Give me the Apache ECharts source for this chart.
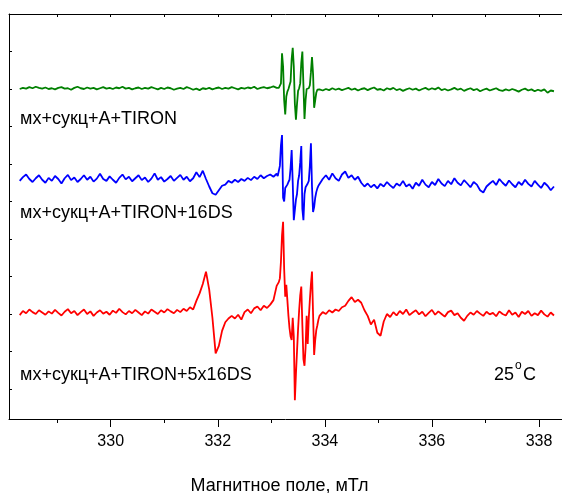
<!DOCTYPE html>
<html><head><meta charset="utf-8">
<script src="https://cdn.jsdelivr.net/npm/echarts@6/dist/echarts.min.js"></script>
<style>html,body{margin:0;padding:0;background:#fff}#c{width:562px;height:493px}</style>
</head><body><div id="c"></div>
<script>
// Field sampling (mT): three segments, start and step
const fieldLeftStart = 328.30, fieldLeftStep = 0.06;
const fieldMidStart = 333.12, fieldMidStep = 0.02;
const fieldRightStart = 333.90, fieldRightStep = 0.06;

// x-axis ticks
const majorTicks = [330, 332, 334, 336, 338];
const minorTicks = [329, 331, 333, 335, 337];
const topTicks = [329, 330, 331, 332, 333, 334, 335, 336, 337, 338];
const yTicks = [1, 2, 3, 4, 5, 6, 7, 8, 9, 10];

const labels = ['мх+сукц+А+TIRON', 'мх+сукц+А+TIRON+16DS', 'мх+сукц+А+TIRON+5x16DS'];

// Green: мх+сукц+А+TIRON
const greenLeft = [9.00,9.03,9.01,9.05,9.02,9.06,9.03,9.01,9.04,9.00,9.02,8.99,9.03,9.05,9.01,9.02,8.98,9.03,9.06,9.02,
9.00,9.04,9.01,9.03,8.99,9.02,9.05,9.01,9.03,9.00,9.04,9.02,9.06,9.01,9.03,8.99,9.02,9.04,9.00,9.03,
9.01,9.05,9.02,8.99,9.03,9.00,9.04,9.02,8.98,9.01,9.03,9.00,9.05,9.02,8.98,9.01,8.97,9.02,9.00,9.03,
8.99,9.02,9.04,9.00,9.03,9.01,9.05,9.02,8.99,9.03,9.01,9.04,9.02,9.06,9.00,9.03,9.05,9.02,9.04,9.07,9.03];
const greenMid = [9.05,9.03,9.08,9.15,9.95,9.60,8.70,8.32,8.80,8.93,9.00,9.05,9.20,9.80,10.10,9.60,8.60,8.18,8.60,8.95,
9.02,9.15,9.70,10.00,9.10,8.20,8.70,9.00,9.05,9.02,9.10,9.45,9.85,9.40,8.50,8.70,8.90,8.98,9.00];
const greenRight = [8.99,8.96,9.00,8.97,9.02,8.98,9.01,8.97,9.00,9.03,8.98,9.01,8.96,9.00,9.02,8.97,9.01,9.04,8.98,9.00,
8.96,9.02,8.99,9.03,8.97,9.00,8.95,8.99,9.02,8.98,9.01,8.96,9.00,9.03,8.98,9.02,8.99,9.04,8.97,9.00,
8.96,8.99,9.03,8.98,9.01,8.95,8.99,9.02,8.97,9.00,8.94,8.98,9.01,8.96,8.99,9.02,8.97,8.95,8.99,8.96,
9.00,8.97,8.93,8.98,9.01,8.96,8.99,8.94,8.98,8.95,8.99,8.90,8.96,8.94];

// Blue: мх+сукц+А+TIRON+16DS
const blueLeft = [6.55,6.65,6.72,6.60,6.52,6.62,6.70,6.58,6.50,6.63,
6.55,6.68,6.60,6.48,6.62,6.71,6.57,6.64,6.52,6.60,
6.70,6.58,6.66,6.53,6.61,6.74,6.60,6.55,6.67,6.58,
6.50,6.63,6.72,6.59,6.66,6.54,6.62,6.70,6.57,6.64,
6.52,6.61,6.75,6.58,6.65,6.53,6.60,6.68,6.55,6.63,
6.71,6.58,6.66,6.54,6.62,6.78,6.65,6.82,6.60,6.40,
6.22,6.18,6.30,6.42,6.45,6.55,6.50,6.58,6.52,6.60,
6.55,6.63,6.57,6.66,6.60,6.70,6.62,6.68,6.72,6.66,6.74];
const blueMid = [6.68,6.72,6.95,7.50,7.77,6.10,6.00,6.36,6.40,6.45,6.52,6.58,6.90,7.37,6.50,5.50,5.55,6.05,6.20,6.55,
6.70,7.05,7.48,5.80,5.50,6.20,6.38,6.42,6.48,6.55,6.95,7.55,6.40,5.72,5.85,6.10,6.25,6.35,6.42];
const blueRight = [6.45,6.60,6.70,6.58,6.75,6.62,6.55,6.72,6.80,6.63,
6.70,6.58,6.66,6.50,6.40,6.48,6.38,6.45,6.35,6.47,
6.40,6.52,6.43,6.36,6.48,6.42,6.55,6.40,6.46,6.34,
6.50,6.42,6.58,6.45,6.38,6.52,6.44,6.60,6.48,6.41,
6.55,6.46,6.62,6.50,6.43,6.57,6.48,6.38,6.52,6.45,
6.30,6.24,6.40,6.48,6.55,6.44,6.60,6.50,6.42,6.56,
6.46,6.38,6.52,6.44,6.58,6.47,6.40,6.55,6.45,6.36,6.50,6.42,6.30,6.40];

// Red: мх+сукц+А+TIRON+5x16DS
const redLeft = [2.97,3.08,3.02,3.12,3.05,3.00,3.10,3.04,2.98,3.07,
3.01,3.11,3.03,2.96,3.06,3.13,3.02,3.08,2.97,3.05,
3.12,3.00,3.07,2.95,3.04,3.10,3.01,3.06,2.98,3.09,
3.03,3.14,3.05,2.99,3.08,3.02,3.11,3.04,2.97,3.07,
3.01,3.12,3.06,3.00,3.10,3.04,3.13,3.07,3.02,3.11,
3.05,3.14,3.08,3.18,3.12,3.35,3.55,3.80,4.13,3.65,
2.90,1.95,2.15,2.55,2.78,2.88,2.95,2.88,2.98,2.85,
3.05,3.12,3.02,3.15,3.20,3.10,3.22,3.16,3.25,3.37,3.75];
const redMid = [3.70,3.85,3.95,4.40,5.10,5.46,4.20,3.46,3.78,3.37,2.95,2.62,2.40,2.31,2.90,2.40,0.70,1.40,2.00,2.60,
3.10,3.50,3.73,2.70,1.80,1.62,2.10,2.95,2.20,2.90,3.37,3.80,4.13,3.00,1.91,2.30,2.57,2.70,2.85];
const redRight = [2.95,3.05,3.00,3.10,3.04,3.12,3.08,3.18,3.22,3.35,
3.45,3.32,3.38,3.30,3.10,2.95,2.72,2.85,2.50,2.42,
2.80,3.00,2.92,3.05,
2.96,3.08,3.00,3.12,2.97,3.04,3.10,2.99,3.06,2.94,
3.03,3.11,2.98,3.07,3.00,2.93,3.05,3.09,2.97,3.02,
2.90,2.82,2.95,3.04,2.98,3.08,3.01,2.95,3.06,2.99,
3.03,2.94,3.07,3.00,2.96,3.10,2.98,3.04,2.92,3.06,
3.00,3.08,2.95,3.02,2.97,3.09,2.99,2.93,3.04,2.96];

function seg(start, step, vals) {
  return vals.map((v, i) => [Number((start + step * i).toFixed(3)), v]);
}
function build(l, m, r) {
  return seg(fieldLeftStart, fieldLeftStep, l)
    .concat(seg(fieldMidStart, fieldMidStep, m))
    .concat(seg(fieldRightStart, fieldRightStep, r));
}

const FONT = 'Arial, "Liberation Sans", sans-serif';
const chart = echarts.init(document.getElementById('c'), null, {renderer: 'canvas'});
const lineSeries = (name, data, color) => ({
  name, type: 'line', data, showSymbol: false, symbol: 'none', sampling: 'none',
  lineStyle: {color, width: 1.8}, itemStyle: {color}, animation: false, silent: true
});
chart.setOption({
  animation: false,
  backgroundColor: '#fff',
  grid: {left: 9, right: 0, top: 14, bottom: 74, containLabel: false, outerBoundsMode: 'none'},
  xAxis: [
    {type: 'value', position: 'bottom', min: 328.1, max: 338.43,
     axisLine: {show: true, lineStyle: {color: '#000', width: 1}},
     axisTick: {show: true, inside: false, length: 8, customValues: majorTicks, lineStyle: {color: '#000', width: 1}},
     axisLabel: {show: true, customValues: majorTicks, margin: 15, fontSize: 16, color: '#000', fontFamily: FONT},
     splitLine: {show: false},
     name: 'Магнитное поле, мТл', nameLocation: 'middle', nameGap: 58,
     nameTextStyle: {fontSize: 18, color: '#000', fontFamily: FONT, padding: [0, 12, 0, 0]}},
    {type: 'value', position: 'bottom', min: 328.1, max: 338.43,
     axisLine: {show: false},
     axisTick: {show: true, inside: false, length: 4, customValues: minorTicks, lineStyle: {color: '#000', width: 1}},
     axisLabel: {show: false}, splitLine: {show: false}},
    {type: 'value', position: 'top', min: 328.1, max: 338.43,
     axisLine: {show: true, lineStyle: {color: '#000', width: 1}},
     axisTick: {show: true, inside: true, length: 3, customValues: topTicks, lineStyle: {color: '#000', width: 1}},
     axisLabel: {show: false}, splitLine: {show: false}}
  ],
  yAxis: {type: 'value', min: 0.2, max: 11,
    axisLine: {show: true, lineStyle: {color: '#000', width: 1}},
    axisTick: {show: true, inside: true, length: 3, customValues: yTicks, lineStyle: {color: '#000', width: 1}},
    axisLabel: {show: false}, splitLine: {show: false}},
  series: [
    lineSeries(labels[0], build(greenLeft, greenMid, greenRight), '#008000'),
    lineSeries(labels[1], build(blueLeft, blueMid, blueRight), '#0000ff'),
    lineSeries(labels[2], build(redLeft, redMid, redRight), '#ff0000')
  ],
  graphic: [
    {type: 'text', left: 20, top: 110, style: {text: labels[0], fontSize: 18, fill: '#000', fontFamily: FONT}},
    {type: 'text', left: 20, top: 204, style: {text: labels[1], fontSize: 18, fill: '#000', fontFamily: FONT}},
    {type: 'text', left: 20, top: 366, style: {text: labels[2], fontSize: 18, fill: '#000', fontFamily: FONT}},
    {type: 'text', left: 494, top: 366, style: {text: '25', fontSize: 18, fill: '#000', fontFamily: FONT}},
    {type: 'text', left: 515, top: 360, style: {text: 'o', fontSize: 12, fill: '#000', fontFamily: FONT}},
    {type: 'text', left: 523, top: 366, style: {text: 'C', fontSize: 18, fill: '#000', fontFamily: FONT}}
  ]
});
</script></body></html>
